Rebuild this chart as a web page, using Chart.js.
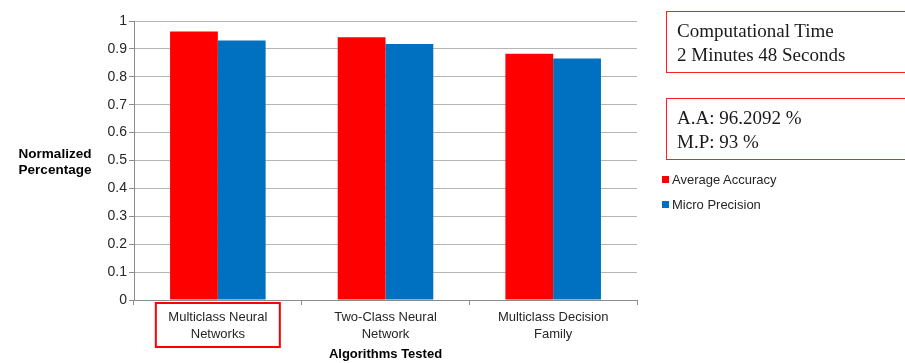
<!DOCTYPE html>
<html>
<head>
<meta charset="utf-8">
<script src="https://cdn.jsdelivr.net/npm/chart.js@4.4.1/dist/chart.umd.min.js"></script>
<style>
  html, body { margin: 0; padding: 0; background: #ffffff; }
  #wrap { position: relative; width: 905px; height: 363px; overflow: hidden; font-family: "Liberation Sans", Arial, sans-serif; }
  #chart { position: absolute; left: 0; top: 0; }
  .note { position: absolute; left: 666px; width: 250px; height: 58px; border: 1.5px solid #ff2020;
          font-family: "Liberation Serif", "Times New Roman", serif; font-size: 19px; line-height: 24px;
          color: #1a1a1a; padding: 7px 0 0 10px; box-sizing: border-box; }
  #legend { position: absolute; left: 662px; top: 172px; font-size: 13px; color: #262626; }
  .item { height: 25px; line-height: 16px; white-space: nowrap; }
  .sw { display: inline-block; width: 7px; height: 7px; margin-right: 3px; vertical-align: 1px; }
</style>
</head>
<body>
<div id="wrap">
  <canvas id="chart" width="905" height="363"></canvas>
  <div class="note" style="top:11px;height:62px;">Computational Time<br>2 Minutes 48 Seconds</div>
  <div class="note" style="top:98px;height:62px;">A.A: 96.2092 %<br>M.P: 93 %</div>
  <div id="legend"></div>
</div>
<script>
// Algorithms compared (two-line labels under each group)
const categories = [
  ["Multiclass Neural", "Networks"],
  ["Two-Class Neural", "Network"],
  ["Multiclass Decision", "Family"]
];
const seriesNames = ["Average Accuracy", "Micro Precision"];
const averageAccuracy = [0.962092, 0.942, 0.883];
const microPrecision = [0.93, 0.918, 0.866];
const yTicks = [0, 0.1, 0.2, 0.3, 0.4, 0.5, 0.6, 0.7, 0.8, 0.9, 1];
const xTitle = "Algorithms Tested";
const yTitle = ["Normalized", "Percentage"];
const highlighted = 0; // category outlined in red

const colors = ["#ff0000", "#0070c0"];

// Horizontal y-axis title and outline around the highlighted category label
const extras = {
  id: "extras",
  afterDraw(chart) {
    const ctx = chart.ctx;
    ctx.save();
    ctx.fillStyle = "#000000";
    ctx.font = "bold 13.5px 'Liberation Sans', Arial, sans-serif";
    ctx.textAlign = "center";
    ctx.textBaseline = "middle";
    ctx.fillText(yTitle[0], 55, 154);
    ctx.fillText(yTitle[1], 55, 170);

    const x = chart.scales.x;
    const cx = x.getPixelForValue(highlighted);
    ctx.strokeStyle = "#ff0000";
    ctx.lineWidth = 2;
    ctx.strokeRect(cx - 62, 303, 124, 44);
    ctx.restore();
  }
};

const chart = new Chart(document.getElementById("chart"), {
  type: "bar",
  data: {
    labels: categories,
    datasets: [
      { label: seriesNames[0], data: averageAccuracy, backgroundColor: colors[0] },
      { label: seriesNames[1], data: microPrecision, backgroundColor: colors[1] }
    ]
  },
  options: {
    responsive: false,
    animation: false,
    devicePixelRatio: 1,
    layout: { padding: { left: 94, right: 268, top: 21, bottom: 0 } },
    datasets: { bar: { categoryPercentage: 0.57, barPercentage: 1.0 } },
    plugins: { legend: { display: false }, tooltip: { enabled: false } },
    scales: {
      x: {
        grid: { offset: true, drawOnChartArea: false, drawTicks: true, tickLength: 5, color: "#8c8c8c" },
        border: { color: "#8c8c8c" },
        ticks: { color: "#262626", font: { size: 13, family: "'Liberation Sans', Arial, sans-serif", lineHeight: 1.3 }, padding: 4, maxRotation: 0 },
        title: { display: true, text: xTitle, color: "#000000",
                 font: { size: 13, weight: "bold", family: "'Liberation Sans', Arial, sans-serif" }, padding: { top: 0, bottom: 1 } },
        afterFit(s) { s.height = 63; }
      },
      y: {
        min: 0, max: 1,
        afterBuildTicks(s) { s.ticks = yTicks.map(v => ({ value: v })); },
        grid: { color: "#b5b5b5", tickLength: 5, tickColor: "#8c8c8c" },
        border: { color: "#8c8c8c" },
        ticks: { color: "#262626", padding: 2,
                 font: { size: 14, family: "'Liberation Sans', Arial, sans-serif" },
                 callback: v => String(v) },
        afterFit(s) { s.width = 40; }
      }
    }
  },
  plugins: [extras]
});

// Legend entries built from the chart's datasets
const legend = document.getElementById("legend");
chart.data.datasets.forEach(ds => {
  const row = document.createElement("div");
  row.className = "item";
  const sw = document.createElement("span");
  sw.className = "sw";
  sw.style.background = ds.backgroundColor;
  row.appendChild(sw);
  row.appendChild(document.createTextNode(ds.label));
  legend.appendChild(row);
});
</script>
</body>
</html>
